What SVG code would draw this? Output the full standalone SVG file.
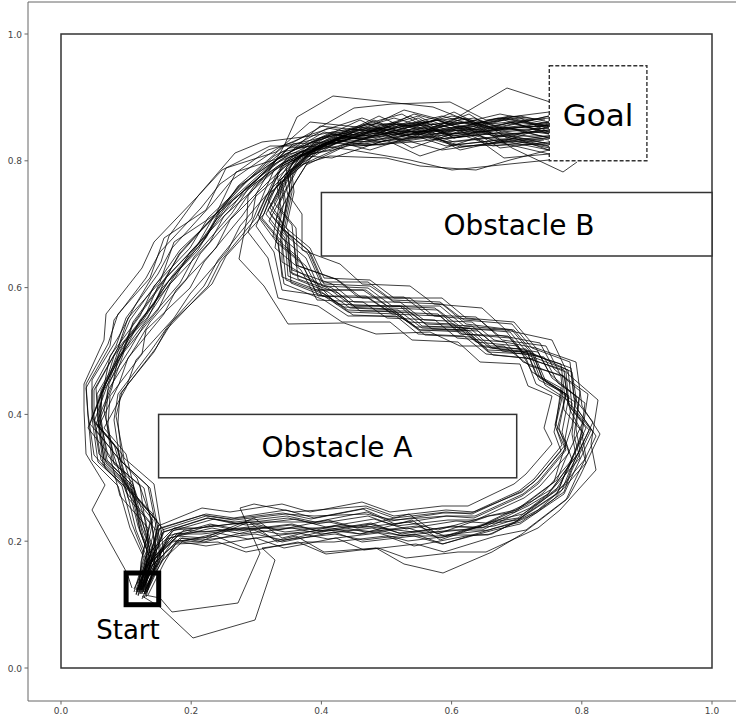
<svg xmlns="http://www.w3.org/2000/svg" xmlns:xlink="http://www.w3.org/1999/xlink" width="736" height="717" viewBox="0 0 736 717">
<style>
.spine{fill:none;stroke:#666;stroke-width:1}
.tick{stroke:#666;stroke-width:1}
.tl{font-family:"DejaVu Sans","Liberation Sans",sans-serif;font-size:9px;fill:#444}
.tlx{text-anchor:middle}
.tly{text-anchor:end}
.bound{fill:none;stroke:#333;stroke-width:1.5}
.traj polyline,.traj use{fill:none;stroke:#000;stroke-opacity:0.75;stroke-width:1;stroke-linejoin:miter}
.obs{fill:#fff;stroke:#333;stroke-width:1.5}
.goal{fill:#fff;stroke:#333;stroke-width:1.4;stroke-dasharray:4 2}
.start{fill:none;stroke:#000;stroke-width:5}
.lbl{font-family:"DejaVu Sans","Liberation Sans",sans-serif;fill:#000;text-anchor:middle}
</style>
<rect x="0" y="0" width="736" height="717" fill="#fff"/>
<g id="axes">
<polyline class="spine" points="736,2 28,2 28,701 736,701"/>
<g class="tick">
<line x1="24.5" y1="668" x2="28" y2="668"/><line x1="24.5" y1="541.2" x2="28" y2="541.2"/><line x1="24.5" y1="414.4" x2="28" y2="414.4"/><line x1="24.5" y1="287.6" x2="28" y2="287.6"/><line x1="24.5" y1="160.8" x2="28" y2="160.8"/><line x1="24.5" y1="34" x2="28" y2="34"/>
<line x1="61" y1="701" x2="61" y2="704.5"/><line x1="191.2" y1="701" x2="191.2" y2="704.5"/><line x1="321.4" y1="701" x2="321.4" y2="704.5"/><line x1="451.6" y1="701" x2="451.6" y2="704.5"/><line x1="581.8" y1="701" x2="581.8" y2="704.5"/><line x1="712" y1="701" x2="712" y2="704.5"/>
</g>
<text class="tl tly" x="22" y="671.5">0.0</text><text class="tl tly" x="22" y="544.7">0.2</text><text class="tl tly" x="22" y="417.9">0.4</text><text class="tl tly" x="22" y="291.1">0.6</text><text class="tl tly" x="22" y="164.3">0.8</text><text class="tl tly" x="22" y="37.5">1.0</text>
<text class="tl tlx" x="61" y="714">0.0</text><text class="tl tlx" x="191.2" y="714">0.2</text><text class="tl tlx" x="321.4" y="714">0.4</text><text class="tl tlx" x="451.6" y="714">0.6</text><text class="tl tlx" x="581.8" y="714">0.8</text><text class="tl tlx" x="712" y="714">1.0</text>
</g>
<g id="boundary"><rect class="bound" x="61" y="34" width="651" height="634"/></g>
<g id="trajectories" class="traj">
<polyline id="l1" points="136,590 146,560 132,524 122,486 94,455 88,414 86,384 108,344 118,314 150,278 164,238 206,210 226,168 276,152 310,122 366,128 404,110 458,124 500,114 549,124"/>
<polyline id="l2" points="145,594 150,562 164,530 136,496 126,454 104,428 126,388 136,360 174,318 190,294 228,250 240,226 274,186 290,170 338,142 370,150 426,132 460,150 514,138 549,150"/>
<polyline id="l3" points="140,588 150,554 146,522 132,482 108,456 99,414 104,388 124,342 142,322 172,276 194,250 228,204 250,186 288,148 320,146 374,120 412,138 464,118 502,142 549,126"/>
<polyline id="l4" points="138,595 146,566 148,528 120,496 110,456 88,428 104,386 110,356 140,316 154,286 190,248 208,218 246,182 270,164 324,132 354,138 410,116 446,136 504,120 549,134"/>
<polyline points="148,590 164,556 160,522 154,484 124,458 116,416 122,392 156,348 172,322 212,284 226,256 264,214 272,192 306,156 332,158 386,140 420,156 476,138 504,158 549,154"/>
<polyline points="132,588 127,573 92,510 105,485 86,454 84,410 84,384 104,340 106,314 142,268 154,242 198,196 222,170 270,146 304,146 360,120 394,136 454,112 490,130 549,116"/>
<polyline id="l7" points="142,592 156,556 146,528 140,486 112,460 106,418 108,390 136,346 150,322 186,280 200,254 238,210 254,186 296,154 322,148 378,128 406,132 468,130 496,136 549,136"/>
<polyline points="139,590 141,562 150,522 126,492 112,450 90,424 106,382 114,356 146,314 158,286 198,244 214,216 254,174 274,156 328,128 360,134 418,116 450,132 506,118 549,128"/>
<polyline points="144,594 158,560 152,526 144,488 114,464 108,424 110,396 142,354 146,330 190,288 204,262 242,216 256,196 302,156 328,150 382,132 412,148 468,128 500,148 549,142"/>
<polyline id="l10" points="137,592 148,560 136,530 126,488 98,462 92,418 92,390 116,346 126,318 158,274 172,248 212,204 232,180 278,148 306,136 362,118 396,130 452,116 490,124 549,118"/>
<polyline points="141,590 145,560 153,520 128,490 117,448 94,422 110,378 120,352 150,308 168,282 206,238 220,212 260,176 280,160 332,134 364,138 422,124 454,138 510,128 549,138"/>
<polyline points="146,592 160,558 156,526 148,486 120,460 114,420 118,394 150,352 168,326 204,286 218,260 252,218 256,194 284,146 297,117 333,96 433,107 476,124 520,118 549,132"/>
<polyline points="138,596 151,562 140,530 131,490 103,464 98,422 97,394 123,350 133,322 164,280 180,254 218,212 238,188 282,152 310,146 368,128 400,140 458,130 490,144 549,138"/>
<polyline id="l14" points="143,590 147,558 157,520 130,492 118,450 96,424 114,380 124,352 158,310 170,284 210,242 224,216 264,180 282,164 336,138 368,142 424,128 456,134 514,122 549,126"/>
<polyline points="134,592 144,558 130,528 118,486 92,460 88,416 86,388 110,346 114,320 146,278 160,252 201,208 220,184 268,150 294,142 354,108 392,104 450,102 486,120 549,112"/>
<polyline points="145,590 149,560 159,524 134,494 122,454 99,426 119,384 128,358 164,314 176,290 216,248 230,220 268,182 286,166 336,140 366,146 426,130 456,118 507,88 550,102"/>
<polyline points="140,594 152,560 144,528 133,486 107,460 101,418 101,390 127,346 140,320 175,278 190,252 230,210 246,188 289,154 316,148 372,128 404,134 462,126 494,136 549,130"/>
<polyline points="147,592 161,558 158,528 150,488 122,462 118,422 120,394 154,352 166,330 208,286 220,262 256,218 266,196 304,164 330,156 386,158 420,166 476,170 510,160 549,150"/>
<polyline points="137,590 149,556 138,526 128,486 101,460 94,416 94,390 118,348 130,320 162,276 180,250 222,210 238,186 284,146 312,140 370,124 404,124 460,118 494,128 549,116"/>
<polyline points="142,590 154,554 142,522 129,482 99,454 92,408 92,380 119,336 136,304 161,262 169,236 198,196 235,153 262,142 311,136 344,130 402,114 436,134 498,118 549,126"/>
<use xlink:href="#l3" href="#l3" transform="translate(5,-4)"/>
<use xlink:href="#l7" href="#l7" transform="translate(-6,3)"/>
<use xlink:href="#l10" href="#l10" transform="translate(7,6)"/>
<use xlink:href="#l14" href="#l14" transform="translate(-4,-6)"/>
<use xlink:href="#l4" href="#l4" transform="translate(8,2)"/>
<use xlink:href="#l1" href="#l1" transform="translate(10,4)"/>
<polyline id="s1" points="140,592 156,558 168,536 210,524 242,530 292,524 322,532 370,524 402,534 452,526 482,528 528,506 548,494 576,456 572,434 576,396 550,374 536,348 494,340 472,322 424,320 400,302 354,302 332,284 292,270 288,230 270,208 290,172 300,156 346,134 374,136 428,126 454,136 506,128 549,138"/>
<polyline id="s2" points="144,594 154,568 182,542 206,546 256,538 284,548 336,538 364,550 416,544 444,552 496,536 526,530 568,498 580,476 600,434 582,406 576,362 536,348 514,322 466,318 442,298 394,298 370,280 324,278 310,248 286,228 294,192 292,174 324,146 346,140 398,124 426,130 478,120 504,130 549,122"/>
<polyline id="s3" points="137,590 152,554 160,528 206,514 234,518 286,510 314,518 366,508 394,518 446,512 472,514 520,492 534,482 561,451 554,432 562,398 536,384 526,358 486,354 464,336 418,334 396,316 348,316 324,300 284,284 278,244 259,218 276,178 286,162 334,140 364,144 416,136 446,146 500,140 549,150"/>
<polyline id="s4" points="141,590 150,564 178,536 204,538 254,518 282,538 334,526 362,526 414,532 442,532 494,526 520,518 562,490 570,470 589,430 569,406 566,372 528,358 510,338 462,334 440,316 392,314 368,298 322,296 306,266 280,244 286,204 282,182 316,150 338,146 390,132 418,138 470,132 498,142 549,136"/>
<polyline id="s5" points="139,592 154,556 164,532 208,518 236,524 288,518 316,524 368,516 396,526 448,520 476,520 524,498 540,486 569,453 562,432 569,396 542,378 532,352 490,348 468,330 422,328 398,310 350,308 328,292 288,276 285,238 266,214 286,176 294,160 342,138 370,138 422,130 450,138 504,132 549,140"/>
<polyline points="145,595 160,598 172,612 238,603 260,553 240,508 254,504 294,512 366,506 394,516 446,510 474,512 522,492 538,478 566,444 556,424 561,388 532,372 518,346 476,342 454,324 408,322 384,306 336,304 316,282 282,262 282,222 268,200 292,164 304,152 354,132 384,134 436,120 466,130 549,126"/>
<polyline points="142,596 160,607 193,638 255,620 275,560 262,548 306,542 334,542 386,536 414,546 466,536 492,534 538,510 554,496 586,458 582,434 588,394 560,374 546,346 502,340 480,320 434,316 410,298 362,298 338,280 298,266 296,228 278,206 298,168 308,154 356,130 386,130 438,120 468,132 549,128"/>
<polyline id="s8" points="143,592 152,566 180,538 204,542 254,530 282,542 334,532 362,542 414,536 442,544 494,530 520,524 564,494 574,472 593,432 575,406 571,368 532,354 512,330 464,326 440,306 392,306 368,288 322,286 308,254 282,232 290,194 288,174 320,144 342,138 394,122 422,128 474,122 502,132 549,128"/>
<polyline points="138,590 153,555 162,530 206,516 234,520 286,514 314,516 366,514 394,520 446,516 474,518 522,496 538,484 566,450 557,430 566,394 539,380 528,354 488,352 466,332 420,330 396,314 348,312 324,296 282,290 274,252 256,226 274,184 282,166 328,142 358,146 412,142 442,150 498,142 549,154"/>
<polyline id="s10" points="140,590 149,562 177,534 202,534 252,528 280,528 332,528 360,534 412,520 440,540 492,522 518,518 560,486 568,466 586,428 568,404 564,370 526,358 508,336 460,334 438,314 390,312 366,296 318,296 302,264 276,242 284,202 280,180 314,148 336,142 388,130 416,132 468,128 496,134 549,132"/>
<polyline points="144,592 163,560 176,544 218,542 246,552 298,542 326,554 378,548 406,558 458,552 486,552 538,528 560,510 596,470 591,444 598,400 568,374 552,340 506,330 482,308 434,304 410,286 362,284 340,264 302,250 302,214 288,194 308,162 316,150 362,128 390,128 442,116 470,124 520,116 549,122"/>
<polyline points="136,592 150,556 158,526 202,508 230,512 282,504 310,512 362,502 390,512 442,506 468,506 514,484 526,474 552,444 544,428 552,396 528,386 520,364 480,362 458,342 412,340 390,322 342,322 318,306 278,298 268,258 248,232 266,188 274,170 322,146 352,150 410,160 452,170 500,165 549,160"/>
<polyline points="141,594 148,564 174,534 200,532 248,528 280,534 328,530 360,534 408,528 440,538 488,524 518,520 556,490 568,470 582,432 570,410 564,376 530,366 504,346 460,346 430,332 376,334 344,323 288,324 264,286 239,259 247,218 248,196 274,164 296,154 344,136 378,142 428,136 462,146 549,144"/>
<polyline id="s14" points="142,590 158,558 170,538 212,528 242,534 292,528 322,534 372,528 402,536 452,530 482,530 530,508 548,494 580,458 574,436 579,398 552,378 538,352 496,346 472,326 426,324 402,306 354,306 332,288 292,274 288,236 270,214 290,176 300,160 346,138 374,140 426,132 454,142 508,136 549,144"/>
<polyline points="139,590 147,560 174,530 198,528 248,522 278,530 328,520 358,528 408,522 438,530 488,516 516,510 554,482 560,462 572,426 575,402 546,382 534,354 492,348 470,328 422,326 400,306 352,306 328,288 290,272 286,234 268,210 288,172 296,158 344,136 372,136 424,128 452,136 506,128 549,134"/>
<polyline points="143,592 160,560 172,542 216,536 244,548 296,536 324,552 376,548 404,564 443,573 492,552 522,534 566,500 576,478 596,436 578,410 572,372 534,354 514,330 466,324 442,304 394,302 370,286 324,284 310,252 284,230 292,192 290,172 322,144 344,138 398,124 426,132 478,124 512,148 563,172 577,162"/>
<polyline id="s17" points="138,592 154,558 163,532 207,518 235,522 287,516 315,522 367,512 395,524 447,516 475,516 523,494 538,482 566,448 559,428 566,394 540,378 530,352 488,350 466,330 420,330 396,312 348,310 324,294 286,280 282,242 262,218 280,178 290,162 336,140 366,142 418,134 448,142 502,136 549,146"/>
<polyline id="s18" points="142,594 151,566 182,538 203,540 255,534 283,540 335,534 363,540 415,534 443,544 495,528 521,522 564,492 572,470 591,430 572,406 568,370 530,356 510,332 462,328 438,310 390,308 366,290 320,290 306,258 280,236 288,196 284,176 318,146 340,142 392,126 420,134 472,126 500,136 549,130"/>
<use xlink:href="#s1" href="#s1" transform="translate(4,-5)"/>
<use xlink:href="#s4" href="#s4" transform="translate(-5,4)"/>
<use xlink:href="#s5" href="#s5" transform="translate(3,7)"/>
<use xlink:href="#s10" href="#s10" transform="translate(-3,-6)"/>
<use xlink:href="#s14" href="#s14" transform="translate(6,5)"/>
<use xlink:href="#s17" href="#s17" transform="translate(-4,-3)"/>
<use xlink:href="#s18" href="#s18" transform="translate(2,-8)"/>
</g>
<g id="obstacle-a"><rect class="obs" x="158.6" y="414.4" width="358.1" height="63.4"/><text class="lbl" x="337" y="457" font-size="28">Obstacle A</text></g>
<g id="obstacle-b"><rect class="obs" x="321.4" y="192.5" width="390.6" height="63.5"/><text class="lbl" x="519" y="235" font-size="28">Obstacle B</text></g>
<g id="goal"><rect class="goal" x="549.3" y="65.7" width="97.6" height="95.1"/><text class="lbl" x="598" y="126" font-size="31">Goal</text></g>
<g id="start"><rect class="start" x="126.1" y="573" width="32.6" height="31.7"/><text class="lbl" x="128" y="639" font-size="26">Start</text></g>
</svg>
